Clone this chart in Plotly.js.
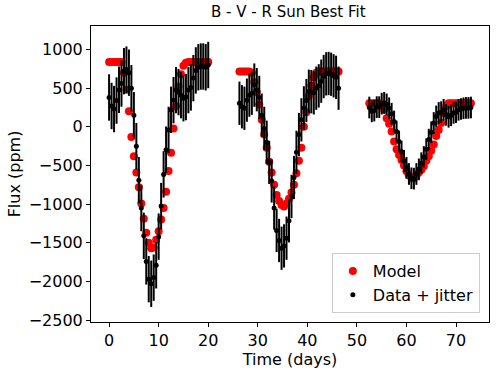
<!DOCTYPE html>
<html>
<head>
<meta charset="utf-8">
<script src="https://cdn.plot.ly/plotly-3.0.1.min.js"></script>
<style>
  html, body { margin: 0; padding: 0; background: #fff; }
  #chart { width: 497px; height: 374px; }
</style>
</head>
<body>
<div id="chart"></div>
<script>
// три куска наблюдений, время в днях
const t1 = [0, 0.5, 1, 1.5, 2, 2.5, 3, 3.5, 4, 4.5, 5, 5.5, 6, 6.5, 7, 7.5, 8, 8.5, 9, 9.5,
  10, 10.5, 11, 11.5, 12, 12.5, 13, 13.5, 14, 14.5, 15, 15.5, 16, 16.5, 17, 17.5, 18, 18.5, 19, 19.5, 20];
const model1 = [840, 840, 840, 840, 840, 840, 700, 480, 200, -130, -380, -590, -780, -990, -1190, -1370, -1500, -1570, -1560, -1460,
  -1350, -1200, -1050, -840, -570, -335, -20, 270, 520, 680, 790, 830, 840, 840, 840, 840, 840, 840, 840, 840, 840];
const data1 = [380, 270, 230, 340, 480, 560, 720, 740, 700, 500, 150, -250, -690, -1050, -1410, -1740, -1970, -2030, -1950, -1790,
  -1420, -1025, -615, -295, -40, 220, 345, 475, 450, 410, 370, 385, 475, 510, 630, 730, 770, 780, 780, 770, 800];

const t2 = [26.3, 26.8, 27.3, 27.8, 28.3, 28.8, 29.3, 29.8, 30.3, 30.8, 31.3, 31.8, 32.3, 32.8, 33.3, 33.8, 34.3, 34.8, 35.3, 35.8,
  36.3, 36.8, 37.3, 37.8, 38.3, 38.8, 39.3, 39.8, 40.3, 40.8, 41.3, 41.8, 42.3, 42.8, 43.3, 43.8, 44.3, 44.8, 45.3, 45.8, 46.3];
const model2 = [715, 715, 715, 715, 715, 700, 580, 450, 290, 90, -100, -270, -450, -590, -750, -880, -960, -1010, -1030, -990,
  -930, -850, -750, -600, -440, -270, 0, 190, 400, 530, 640, 700, 715, 715, 715, 715, 715, 715, 715, 715, 715];
const data2 = [305, 260, 240, 345, 410, 435, 540, 480, 380, 150, -20, -200, -460, -700, -1050, -1340, -1470, -1570, -1540, -1440,
  -1215, -900, -655, -330, -100, 90, 245, 340, 460, 455, 440, 500, 530, 590, 650, 685, 690, 680, 660, 640, 500];

const t3 = [52.5, 53, 53.5, 54, 54.5, 55, 55.5, 56, 56.5, 57, 57.5, 58, 58.5, 59, 59.5, 60, 60.5, 61, 61.5, 62, 62.5,
  63, 63.5, 64, 64.5, 65, 65.5, 66, 66.5, 67, 67.5, 68, 68.5, 69, 69.5, 70, 70.5, 71, 71.5, 72, 72.5, 73];
const model3 = [305, 305, 305, 305, 305, 280, 220, 110, 40, -60, -190, -290, -365, -430, -500, -575, -625, -665, -665, -635, -590,
  -555, -510, -440, -380, -310, -230, -120, -40, 50, 180, 265, 305, 305, 305, 305, 305, 305, 305, 305, 305, 305];
const data3 = [250, 200, 210, 255, 255, 300, 310, 290, 240, 170, 70, -60, -190, -320, -440, -530, -610, -665, -670, -610, -550,
  -470, -390, -290, -165, -70, 50, 135, 180, 190, 220, 155, 130, 150, 180, 190, 220, 230, 240, 245, 245, 250];

// ошибки (с джиттером) для каждого куска
const err1 = 300;
const err2 = 280;
const err3 = 140;

const xTicks = [0, 10, 20, 30, 40, 50, 60, 70];
const yTicks = [-2500, -2000, -1500, -1000, -500, 0, 500, 1000];

const font = 'DejaVu Sans, sans-serif';

function modelTrace(x, y, show) {
  return {
    x: x, y: y,
    type: 'scatter', mode: 'markers',
    name: 'Model', legendgroup: 'model', showlegend: show,
    marker: { color: '#ff0000', size: 8, line: { width: 0 } },
    hoverinfo: 'skip'
  };
}

function dataTrace(x, y, err, show) {
  return {
    x: x, y: y,
    type: 'scatter', mode: 'markers',
    name: 'Data + jitter', legendgroup: 'data', showlegend: show,
    marker: { color: 'black', size: 5 },
    error_y: { type: 'constant', value: err, color: 'black', thickness: 2, width: 0 },
    hoverinfo: 'skip'
  };
}

// сначала модель, поверх неё данные
const traces = [
  modelTrace(t1, model1, true),
  modelTrace(t2, model2, false),
  modelTrace(t3, model3, false),
  dataTrace(t1, data1, err1, true),
  dataTrace(t2, data2, err2, false),
  dataTrace(t3, data3, err3, false)
];

const axisBase = {
  showline: true, mirror: true, linecolor: 'black', linewidth: 1,
  ticks: 'outside', ticklen: 4, tickwidth: 1, tickcolor: 'black',
  showgrid: false, zeroline: false,
  tickfont: { family: font, size: 16, color: 'black' }
};

const layout = {
  width: 497, height: 374,
  margin: { l: 91, r: 8, t: 26, b: 52 },
  paper_bgcolor: 'white', plot_bgcolor: 'white',
  font: { family: font, color: 'black' },
  title: { text: 'B - V - R Sun Best Fit', font: { family: font, size: 15, color: 'black' },
    x: 0.58, xanchor: 'center', y: 0.955, yanchor: 'bottom' },
  xaxis: Object.assign({}, axisBase, {
    range: [-3.65, 76.65], tickvals: xTicks,
    title: { text: 'Time (days)', font: { family: font, size: 16 }, standoff: 2 }
  }),
  yaxis: Object.assign({}, axisBase, {
    range: [-2524, 1304], tickvals: yTicks,
    title: { text: 'Flux (ppm)', font: { family: font, size: 16 }, standoff: 4 }
  }),
  showlegend: true,
  legend: {
    x: 0.977, y: 0.03, xanchor: 'right', yanchor: 'bottom',
    bgcolor: 'rgba(255,255,255,0.8)', bordercolor: '#cccccc', borderwidth: 1,
    font: { family: font, size: 16, color: 'black' },
    traceorder: 'normal', itemwidth: 30
  }
};

Plotly.newPlot('chart', traces, layout, { displayModeBar: false, staticPlot: true });
</script>
</body>
</html>
